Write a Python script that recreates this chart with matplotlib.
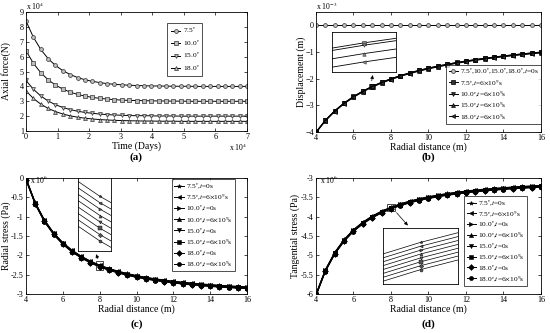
import matplotlib
matplotlib.use("Agg")
import matplotlib.pyplot as plt
from matplotlib.patches import Rectangle
import numpy as np

plt.rcParams['font.family'] = ['Liberation Serif', 'DejaVu Serif']
plt.rcParams['mathtext.fontset'] = 'stix'
plt.rcParams['axes.linewidth'] = 0.6

# ---------------- data ----------------
# (a) axial force, time in 1e4 days, force in 1e4 N
time_days = [0.0, 0.233, 0.467, 0.7, 0.933, 1.167, 1.4, 1.633, 1.867, 2.1, 2.333,
             2.567, 2.8, 3.033, 3.267, 3.5, 3.733, 3.967, 4.2, 4.433, 4.667,
             4.9, 5.133, 5.367, 5.6, 5.833, 6.067, 6.3, 6.533, 6.767, 7.0]
force_75 = [8.40, 7.31, 6.49, 5.87, 5.41, 5.06, 4.80, 4.60, 4.45, 4.34, 4.26,
            4.19, 4.14, 4.11, 4.08, 4.06, 4.05, 4.03, 4.03, 4.02, 4.01,
            4.01, 4.01, 4.00, 4.00, 4.00, 4.00, 4.00, 4.00, 4.00, 4.00]
force_10 = [6.40, 5.56, 4.92, 4.45, 4.09, 3.82, 3.62, 3.46, 3.35, 3.26, 3.20,
            3.15, 3.11, 3.08, 3.06, 3.05, 3.04, 3.03, 3.02, 3.02, 3.01,
            3.01, 3.00, 3.00, 3.00, 3.00, 3.00, 3.00, 3.00, 3.00, 3.00]
force_15 = [4.40, 3.81, 3.36, 3.02, 2.77, 2.58, 2.44, 2.33, 2.25, 2.19, 2.14,
            2.10, 2.08, 2.06, 2.04, 2.03, 2.03, 2.02, 2.01, 2.01, 2.01,
            2.00, 2.00, 2.00, 2.00, 2.00, 2.00, 2.00, 2.00, 2.00, 2.00]
force_18 = [3.70, 3.19, 2.81, 2.52, 2.31, 2.14, 2.02, 1.93, 1.86, 1.81, 1.77,
            1.74, 1.72, 1.70, 1.69, 1.68, 1.67, 1.67, 1.66, 1.66, 1.66,
            1.65, 1.65, 1.65, 1.65, 1.65, 1.65, 1.65, 1.65, 1.65, 1.65]
angle_labels = ['7.5', '10.0', '15.0', '18.0']

# radial distance (m)
radius = [4.0, 4.5, 5.0, 5.5, 6.0, 6.5, 7.0, 7.5, 8.0, 8.5, 9.0, 9.5, 10.0,
          10.5, 11.0, 11.5, 12.0, 12.5, 13.0, 13.5, 14.0, 14.5, 15.0, 15.5, 16.0]
# (b) displacement (1e-3 m)
disp_t0 = [0.0] * 25
disp_t6 = [-4.000, -3.556, -3.200, -2.909, -2.667, -2.462, -2.286, -2.133, -2.000,
           -1.882, -1.778, -1.684, -1.600, -1.524, -1.455, -1.391, -1.333, -1.280,
           -1.231, -1.185, -1.143, -1.103, -1.067, -1.032, -1.000]
disp_offsets = [0.0, -0.004, -0.018, -0.032]   # 7.5, 10, 15, 18 deg at t=6e9 s
# (c) radial stress (1e6 Pa)
radial_stress = [0.000, -0.630, -1.080, -1.413, -1.667, -1.864, -2.020, -2.147, -2.250,
                 -2.336, -2.407, -2.468, -2.520, -2.565, -2.603, -2.637, -2.667, -2.693,
                 -2.716, -2.737, -2.755, -2.772, -2.787, -2.800, -2.8125]
# (d) tangential stress (1e6 Pa)
tang_stress = [-6.000, -5.370, -4.920, -4.587, -4.333, -4.136, -3.980, -3.853, -3.750,
               -3.664, -3.593, -3.532, -3.480, -3.435, -3.397, -3.363, -3.333, -3.307,
               -3.284, -3.263, -3.245, -3.228, -3.213, -3.200, -3.1875]
stress_offsets = [0.0, -0.007, -0.014, -0.021, -0.028, -0.035, -0.042, -0.049]
stress_labels = [r'7.5$^{\circ}$,$t$=0s', r'7.5$^{\circ}$,$t$=6$\times$10$^{9}$s',
                 r'10.0$^{\circ}$,$t$=0s', r'10.0$^{\circ}$,$t$=6$\times$10$^{9}$s',
                 r'15.0$^{\circ}$,$t$=0s', r'15.0$^{\circ}$,$t$=6$\times$10$^{9}$s',
                 r'18.0$^{\circ}$,$t$=0s', r'18.0$^{\circ}$,$t$=6$\times$10$^{9}$s']
stress_markers = ['*', '<', '>', '^', 'v', 's', 'D', 'o']

# ---------------- figure ----------------
fig = plt.figure(figsize=(5.5, 3.33), dpi=100)
FS = 5.9
LFS = 5.3

def style(ax):
    ax.tick_params(direction='in', top=True, right=True, labelsize=FS,
                   length=2.5, width=0.5, pad=1.5)

def legend(ax, **kw):
    opts = dict(fontsize=LFS, frameon=True, fancybox=False, edgecolor='black',
                handlelength=1.3, handletextpad=0.3, borderpad=0.5,
                labelspacing=0.55, borderaxespad=0)
    opts.update(kw)
    lg = ax.legend(**opts)
    lg.get_frame().set_linewidth(0.6)
    return lg

LBL = 7.0

# (a)
axa = fig.add_axes([0.0473, 0.6066, 0.4018, 0.357])
for vals, mk, lab in zip([force_75, force_10, force_15, force_18], ['o', 's', 'v', '^'], angle_labels):
    axa.plot(time_days, vals, color='black', lw=0.7, marker=mk, ms=2.8,
             mfc='#bbbbbb', mec='#333333', mew=0.5, label=lab + r'$^{\circ}$')
axa.set_xlim(0, 7)
axa.set_ylim(1, 9)
axa.set_xticks(range(0, 8))
axa.set_yticks(range(1, 10))
style(axa)
axa.set_xlabel('Time (Days)', fontsize=LBL, labelpad=0)
axa.set_ylabel('Axial force(N)', fontsize=LBL)
axa.yaxis.set_label_coords(-0.066, 0.5)
axa.text(0.0, 1.005, r'x 10$^{4}$', transform=axa.transAxes, fontsize=FS - 0.3, va='bottom')
axa.text(1.0, -0.09, r'x 10$^{4}$', transform=axa.transAxes, fontsize=FS - 0.3, va='top', ha='right')
legend(axa, loc='upper left', bbox_to_anchor=(0.64, 0.91), borderpad=0.45, labelspacing=0.45)

# (b)
axb = fig.add_axes([0.5745, 0.6036, 0.409, 0.36])
axb.plot(radius, disp_t0, color='black', lw=0.7, marker='o', ms=2.8, mfc='#bbbbbb',
         mec='#333333', mew=0.5,
         label=r'7.5$^{\circ}$,10.0$^{\circ}$,15.0$^{\circ}$,18.0$^{\circ}$,$t$=0s')
b_markers = ['s', 'v', '^', '<']
b_series = []
for off, mk, lab in zip(disp_offsets, b_markers, angle_labels):
    vals = [v + off for v in disp_t6]
    b_series.append((vals, mk))
    axb.plot(radius, vals, color='black', lw=0.7, marker=mk, ms=2.8, mfc='#333333',
             mec='black', mew=0.5, label=lab + r'$^{\circ}$,$t$=6$\times$10$^{9}$s')
axb.set_xlim(4, 16)
axb.set_ylim(-4, 0.5)
axb.set_xticks(range(4, 17, 2))
axb.set_yticks([-4, -3, -2, -1, 0])
style(axb)
axb.set_xlabel('Radial distance (m)', fontsize=LBL, labelpad=0)
axb.set_ylabel('Displacement (m)', fontsize=LBL)
axb.yaxis.set_label_coords(-0.045, 0.5)
axb.text(0.0, 1.005, r'x 10$^{-3}$', transform=axb.transAxes, fontsize=FS - 0.3, va='bottom')
legend(axb, loc='lower left', bbox_to_anchor=(0.58, 0.067), borderpad=0.3, labelspacing=0.2)
axb.add_patch(Rectangle((6.83, -2.4), 0.34, 0.22, fill=False, lw=0.5, ec='black'))
axb.annotate('', xy=(7.05, -1.76), xytext=(6.95, -2.18),
             arrowprops=dict(arrowstyle='-|>', lw=0.5, color='black', mutation_scale=5))
insb = axb.inset_axes([0.071, 0.5, 0.284, 0.333])
for vals, mk in b_series:
    insb.plot(radius, vals, color='black', lw=0.6, marker=mk, ms=2.5, mfc='#888888', mec='#333333', mew=0.4)
insb.set_xlim(6.975, 7.025)
insb.set_ylim(-2.335, -2.268)
insb.set_xticks([]); insb.set_yticks([])
for s in insb.spines.values():
    s.set_linewidth(0.6)

# (c)
axc = fig.add_axes([0.0473, 0.117, 0.4018, 0.348])
c_series = []
for off, mk, lab in zip(stress_offsets, stress_markers, stress_labels):
    vals = [v + off for v in radial_stress]
    c_series.append((vals, mk))
    axc.plot(radius, vals, color='black', lw=0.7, marker=mk, ms=3, mfc='black',
             mec='black', mew=0.4, label=lab)
axc.set_xlim(4, 16)
axc.set_ylim(-3, 0)
axc.set_xticks(range(4, 17, 2))
axc.set_yticks([-3, -2.5, -2, -1.5, -1, -0.5, 0])
axc.set_yticklabels(['-3', '-2.5', '-2', '-1.5', '-1', '-0.5', '0'])
style(axc)
axc.set_xlabel('Radial distance (m)', fontsize=LBL, labelpad=0)
axc.set_ylabel('Radial stress (Pa)', fontsize=LBL)
axc.yaxis.set_label_coords(-0.07, 0.5)
axc.text(0.02, 0.985, r'x 10$^{6}$', transform=axc.transAxes, fontsize=FS - 0.3, va='center')
legend(axc, loc='upper left', bbox_to_anchor=(0.66, 0.99), borderpad=0.3, labelspacing=0.2)
axc.add_patch(Rectangle((7.8, -2.38), 0.4, 0.23, fill=False, lw=0.5, ec='black'))
axc.annotate('', xy=(7.75, -1.9), xytext=(7.95, -2.15),
             arrowprops=dict(arrowstyle='-|>', lw=0.5, color='black', mutation_scale=5))
insc = axc.inset_axes([0.235, 0.37, 0.15, 0.63])
for vals, mk in c_series:
    insc.plot(radius, vals, color='black', lw=0.5, marker=mk, ms=2.2, mfc='#555555', mec='black', mew=0.3)
insc.set_xlim(7.92, 8.04)
insc.set_ylim(-2.31, -2.23)
insc.set_xticks([]); insc.set_yticks([])
for s in insc.spines.values():
    s.set_linewidth(0.6)

# (d)
axd = fig.add_axes([0.5745, 0.117, 0.409, 0.348])
d_series = []
for off, mk, lab in zip(stress_offsets, stress_markers, stress_labels):
    vals = [v + off for v in tang_stress]
    d_series.append((vals, mk))
    axd.plot(radius, vals, color='black', lw=0.7, marker=mk, ms=3, mfc='black',
             mec='black', mew=0.4, label=lab)
axd.set_xlim(4, 16)
axd.set_ylim(-6, -3)
axd.set_xticks(range(4, 17, 2))
axd.set_yticks([-6, -5.5, -5, -4.5, -4, -3.5, -3])
axd.set_yticklabels(['-6', '-5.5', '-5', '-4.5', '-4', '-3.5', '-3'])
style(axd)
axd.set_xlabel('Radial distance (m)', fontsize=LBL, labelpad=0)
axd.set_ylabel('Tangential stress (Pa)', fontsize=LBL)
axd.yaxis.set_label_coords(-0.07, 0.5)
axd.text(0.02, 0.985, r'x 10$^{6}$', transform=axd.transAxes, fontsize=FS - 0.3, va='center')
legend(axd, loc='upper left', bbox_to_anchor=(0.66, 0.845), borderpad=0.3, labelspacing=0.15)
axd.add_patch(Rectangle((7.8, -3.84), 0.4, 0.16, fill=False, lw=0.5, ec='black'))
axd.annotate('', xy=(9.0, -4.28), xytext=(8.2, -3.84),
             arrowprops=dict(arrowstyle='-|>', lw=0.5, color='black', mutation_scale=5))
insd = axd.inset_axes([0.30, 0.086, 0.33, 0.48])
for vals, mk in d_series:
    insd.plot(radius, vals, color='black', lw=0.5, marker=mk, ms=2.2, mfc='#555555', mec='black', mew=0.3)
insd.set_xlim(7.9, 8.1)
insd.set_ylim(-3.825, -3.725)
insd.set_xticks([]); insd.set_yticks([])
for s in insd.spines.values():
    s.set_linewidth(0.6)

# panel labels
for x, y, t in [(0.248, 0.528, 'a'), (0.779, 0.528, 'b'), (0.248, 0.025, 'c'), (0.779, 0.025, 'd')]:
    fig.text(x, y, '(' + t + ')', fontsize=8, fontweight='bold', ha='center', va='center')

fig.savefig('out.png', dpi=100)
